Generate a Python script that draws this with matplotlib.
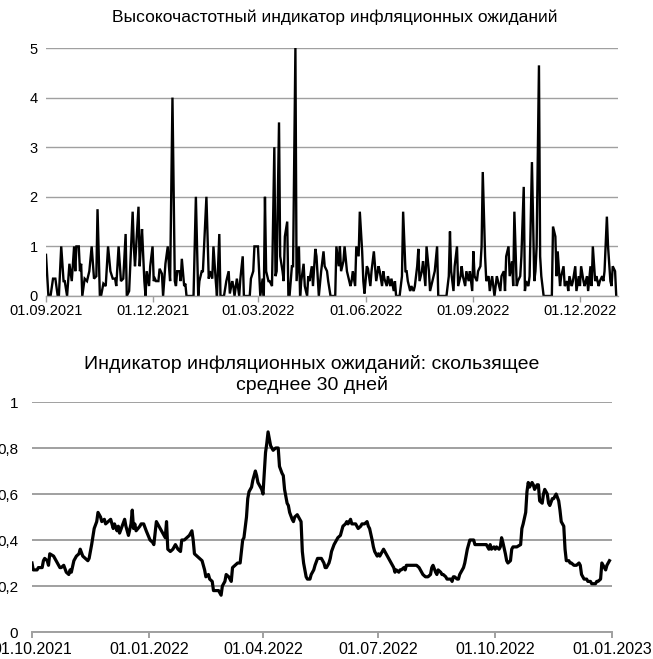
import matplotlib
matplotlib.use('Agg')
import matplotlib.pyplot as plt
import pandas as pd

plt.rcParams['font.family'] = ['Liberation Sans', 'DejaVu Sans']

# ---------------- data ----------------
title_top = "Высокочастотный индикатор инфляционных ожиданий"
title_bottom = ["Индикатор инфляционных ожиданий: скользящее", "среднее 30 дней"]

hf_start = "2021-09-01"
hf_day = [0, 2, 4, 6, 8, 10, 11, 13, 15, 16, 18, 20, 22, 24, 25, 26, 28, 29, 30, 31,
          33, 35, 37, 39, 41, 43, 44, 46, 47, 49, 51, 53, 55, 57, 59, 60, 62, 64, 66, 68,
          69, 71, 74, 75, 76, 77, 79, 80, 81, 82, 84, 85, 86, 88, 89, 91, 92, 93, 94, 96,
          97, 99, 100, 102, 104, 105, 106, 108, 110, 111, 112, 114, 115, 116, 118, 119, 120, 123, 126, 128,
          130, 131, 133, 134, 137, 139, 140, 142, 143, 145, 146, 148, 149, 152, 154, 156, 157, 159, 160, 161,
          163, 165, 166, 168, 169, 172, 174, 175, 177, 178, 179, 181, 182, 183, 185, 186, 187, 188, 190, 191,
          193, 195, 196, 197, 199, 200, 202, 203, 204, 206, 207, 208, 210, 211, 213, 214, 216, 217, 218, 220,
          221, 223, 224, 225, 227, 228, 230, 231, 233, 235, 237, 238, 240, 241, 243, 247, 248, 250, 251, 252,
          254, 255, 257, 258, 260, 261, 262, 264, 265, 267, 268, 270, 271, 272, 274, 275, 277, 278, 280, 281,
          282, 284, 285, 287, 288, 289, 291, 292, 294, 295, 297, 298, 299, 302, 304, 305, 307, 308, 309, 311,
          312, 314, 315, 317, 318, 319, 321, 322, 324, 325, 327, 328, 329, 331, 332, 334, 335, 342, 344, 345,
          346, 348, 349, 351, 352, 354, 355, 356, 358, 359, 361, 362, 364, 365, 366, 368, 369, 371, 372, 373,
          375, 376, 378, 379, 381, 382, 383, 385, 386, 388, 389, 391, 392, 393, 395, 396, 398, 399, 400, 402,
          403, 405, 406, 408, 409, 410, 412, 413, 415, 417, 418, 419, 421, 422, 423, 425, 432, 433, 435, 436,
          437, 439, 440, 442, 443, 445, 446, 447, 449, 450, 452, 453, 455, 456, 457, 459, 460, 462, 463, 465,
          466, 467, 469, 470, 472, 473, 475, 476, 477, 479, 480, 482, 483, 484, 486, 487]
hf_val = [0.83, 0.02, 0.02, 0.35, 0.35, 0.0, 0.0, 1.0, 0.3, 0.3, 0.0, 0.65, 0.3, 1.0, 0.5, 1.0, 1.0, 0.5, 0.65, 0.0,
          0.35, 0.3, 0.5, 1.0, 0.35, 0.4, 1.75, 0.0, 0.0, 0.25, 0.2, 1.0, 0.5, 0.35, 0.35, 0.2, 1.0, 0.3, 0.35, 1.25,
          0.0, 0.1, 1.7, 1.0, 0.6, 1.0, 1.8, 0.6, 1.0, 1.35, 0.3, 0.0, 0.5, 0.2, 0.6, 1.0, 0.3, 0.35, 0.3, 0.3,
          0.55, 0.45, 0.0, 0.65, 1.0, 0.6, 0.3, 4.0, 0.3, 0.2, 0.5, 0.5, 0.3, 0.75, 0.2, 0.25, 0.0, 0.0, 0.0, 2.0,
          0.0, 0.3, 0.5, 0.5, 2.0, 0.35, 0.5, 0.35, 1.0, 0.3, 0.0, 1.25, 0.0, 0.0, 0.3, 0.5, 0.05, 0.3, 0.2, 0.0,
          0.35, 0.0, 0.35, 0.8, 0.0, 0.0, 0.0, 0.35, 0.5, 1.0, 1.0, 1.0, 0.5, 0.0, 0.35, 0.0, 2.0, 0.5, 0.3, 0.3,
          0.2, 3.0, 0.4, 0.5, 3.5, 0.8, 0.5, 0.3, 1.2, 1.5, 0.0, 0.0, 0.6, 0.6, 5.0, 0.3, 1.0, 0.0, 0.3, 0.65,
          0.2, 0.0, 0.4, 0.3, 0.6, 0.2, 0.95, 0.8, 0.0, 0.5, 0.9, 0.6, 0.5, 0.3, 0.0, 0.0, 1.0, 0.6, 1.0, 0.5,
          0.7, 1.0, 0.5, 0.4, 0.2, 0.3, 0.5, 0.2, 1.0, 0.8, 1.7, 0.9, 0.3, 0.05, 0.6, 0.55, 0.2, 0.5, 0.9, 0.6,
          0.3, 0.6, 0.5, 0.2, 0.5, 0.35, 0.2, 0.4, 0.2, 0.35, 0.1, 0.3, 0.0, 0.0, 0.4, 1.7, 0.5, 0.5, 0.3, 0.1,
          0.2, 0.1, 0.2, 0.6, 0.95, 0.3, 0.5, 0.7, 0.2, 1.0, 0.5, 0.1, 0.2, 0.4, 0.5, 1.0, 0.0, 0.0, 0.4, 1.3,
          0.5, 0.1, 0.6, 1.0, 0.2, 0.4, 0.6, 0.4, 0.2, 0.5, 0.3, 0.5, 0.1, 0.9, 0.4, 0.3, 0.5, 0.6, 1.0, 2.5,
          0.8, 0.3, 0.4, 0.1, 0.4, 0.2, 0.0, 0.4, 0.3, 0.1, 0.4, 0.5, 0.1, 0.8, 1.0, 0.4, 0.7, 0.2, 1.7, 0.2,
          0.3, 0.4, 0.8, 2.2, 0.1, 0.3, 0.2, 0.4, 2.7, 0.3, 0.5, 1.0, 4.65, 0.8, 0.4, 0.0, 0.0, 1.4, 1.2, 0.4,
          0.9, 0.2, 0.4, 0.6, 0.2, 0.3, 0.1, 0.4, 0.2, 0.3, 0.6, 0.1, 0.4, 0.2, 0.6, 0.3, 0.2, 0.4, 0.1, 0.6,
          0.2, 1.0, 0.3, 0.4, 0.2, 0.3, 0.4, 0.3, 0.5, 1.6, 1.0, 0.3, 0.2, 0.6, 0.5, 0.0]

ma_start = "2021-10-01"
ma_day = [0, 1, 4, 5, 8, 9, 10, 12, 13, 14, 17, 19, 22, 23, 25, 27, 29, 30, 31, 33,
          35, 37, 38, 40, 42, 44, 45, 47, 49, 51, 52, 54, 55, 57, 58, 60, 62, 64, 65, 67,
          68, 69, 71, 73, 74, 76, 78, 79, 80, 81, 82, 85, 86, 88, 90, 93, 95, 96, 98, 100,
          101, 103, 105, 106, 107, 109, 111, 113, 115, 117, 118, 120, 122, 124, 126, 127, 128, 130, 132, 134,
          136, 137, 139, 140, 142, 143, 145, 147, 149, 150, 152, 153, 155, 157, 158, 160, 162, 163, 164, 166,
          167, 169, 170, 171, 173, 174, 176, 177, 178, 180, 181, 182, 184, 185, 186, 188, 189, 190, 192, 193,
          194, 195, 197, 198, 199, 201, 202, 203, 205, 206, 207, 209, 210, 212, 213, 214, 216, 217, 219, 220,
          222, 223, 225, 228, 230, 231, 232, 234, 235, 236, 238, 240, 241, 243, 244, 245, 247, 248, 249, 251,
          252, 253, 255, 256, 257, 259, 260, 261, 262, 264, 265, 266, 268, 269, 270, 272, 273, 274, 276, 277,
          278, 280, 281, 282, 284, 285, 286, 287, 289, 290, 291, 293, 294, 295, 298, 301, 303, 305, 306, 307,
          308, 310, 311, 312, 314, 315, 316, 318, 319, 320, 322, 323, 324, 326, 327, 330, 331, 332, 333, 335,
          336, 337, 339, 340, 341, 343, 344, 345, 347, 348, 349, 350, 353, 356, 357, 358, 360, 361, 362, 364,
          365, 366, 368, 369, 370, 371, 373, 374, 375, 377, 378, 379, 382, 385, 386, 387, 389, 390, 391, 392,
          394, 395, 396, 398, 399, 400, 402, 403, 404, 406, 407, 408, 410, 411, 412, 413, 415, 416, 417, 419,
          420, 421, 423, 424, 425, 427, 428, 429, 431, 432, 433, 435, 436, 437, 438, 440, 441, 442, 444, 445,
          446, 448, 449, 450, 452, 453, 454, 455]
ma_val = [0.30, 0.27, 0.27, 0.28, 0.28, 0.31, 0.32, 0.31, 0.29, 0.34, 0.33, 0.31, 0.28, 0.28, 0.29, 0.26, 0.25, 0.27, 0.26, 0.31,
          0.33, 0.34, 0.36, 0.33, 0.32, 0.31, 0.32, 0.38, 0.45, 0.48, 0.52, 0.50, 0.48, 0.49, 0.47, 0.48, 0.49, 0.45, 0.47, 0.44,
          0.46, 0.43, 0.46, 0.49, 0.46, 0.42, 0.47, 0.53, 0.45, 0.47, 0.44, 0.46, 0.47, 0.47, 0.44, 0.40, 0.39, 0.38, 0.48, 0.46,
          0.45, 0.43, 0.41, 0.48, 0.36, 0.35, 0.36, 0.38, 0.36, 0.35, 0.40, 0.40, 0.41, 0.42, 0.44, 0.40, 0.34, 0.33, 0.32, 0.31,
          0.27, 0.24, 0.25, 0.23, 0.22, 0.18, 0.18, 0.18, 0.16, 0.20, 0.22, 0.25, 0.24, 0.22, 0.28, 0.29, 0.30, 0.30, 0.30, 0.40,
          0.41, 0.50, 0.58, 0.61, 0.63, 0.66, 0.70, 0.68, 0.65, 0.63, 0.62, 0.60, 0.78, 0.82, 0.87, 0.81, 0.80, 0.79, 0.80, 0.80,
          0.80, 0.72, 0.69, 0.68, 0.62, 0.56, 0.55, 0.52, 0.49, 0.48, 0.50, 0.51, 0.50, 0.48, 0.35, 0.30, 0.24, 0.23, 0.23, 0.25,
          0.27, 0.29, 0.32, 0.32, 0.30, 0.28, 0.28, 0.30, 0.32, 0.35, 0.38, 0.40, 0.41, 0.42, 0.44, 0.46, 0.47, 0.48, 0.47, 0.49,
          0.47, 0.47, 0.47, 0.46, 0.45, 0.46, 0.47, 0.47, 0.47, 0.48, 0.46, 0.45, 0.40, 0.37, 0.35, 0.33, 0.34, 0.33, 0.35, 0.36,
          0.35, 0.33, 0.32, 0.31, 0.29, 0.28, 0.26, 0.27, 0.26, 0.27, 0.27, 0.28, 0.27, 0.29, 0.29, 0.29, 0.29, 0.28, 0.27, 0.26,
          0.25, 0.24, 0.24, 0.24, 0.25, 0.28, 0.29, 0.26, 0.25, 0.27, 0.26, 0.25, 0.25, 0.24, 0.23, 0.23, 0.22, 0.24, 0.24, 0.23,
          0.23, 0.25, 0.27, 0.28, 0.30, 0.36, 0.38, 0.40, 0.40, 0.40, 0.38, 0.38, 0.38, 0.38, 0.38, 0.38, 0.36, 0.38, 0.36, 0.37,
          0.36, 0.37, 0.36, 0.37, 0.41, 0.39, 0.34, 0.31, 0.30, 0.31, 0.36, 0.37, 0.37, 0.38, 0.45, 0.47, 0.52, 0.61, 0.65, 0.63,
          0.65, 0.64, 0.62, 0.64, 0.64, 0.57, 0.56, 0.60, 0.62, 0.60, 0.56, 0.55, 0.58, 0.58, 0.59, 0.60, 0.57, 0.53, 0.48, 0.46,
          0.36, 0.31, 0.31, 0.30, 0.30, 0.29, 0.29, 0.29, 0.30, 0.29, 0.25, 0.23, 0.23, 0.23, 0.22, 0.22, 0.21, 0.21, 0.21, 0.22,
          0.22, 0.23, 0.30, 0.29, 0.27, 0.29, 0.30, 0.31]

top_ticks = ["2021-09-01", "2021-12-01", "2022-03-01", "2022-06-01", "2022-09-01", "2022-12-01"]
bot_ticks = ["2021-10-01", "2022-01-01", "2022-04-01", "2022-07-01", "2022-10-01", "2023-01-01"]
top_yticks = [0, 1, 2, 3, 4, 5]
bot_yticks = [0, 0.2, 0.4, 0.6, 0.8, 1.0]
bot_ylabels = ["0", "0,2", "0,4", "0,6", "0,8", "1"]

# ---------------- figure ----------------
W, H = 653, 659
fig = plt.figure(figsize=(W / 100, H / 100), dpi=100)
fig.patch.set_facecolor('white')

grid_c = '#a0a0a0'

def style(ax, ylab_pad, xlab_pad, ysize, xsize, gw):
    for s in ['left', 'right', 'top']:
        ax.spines[s].set_visible(False)
    ax.spines['bottom'].set_color(grid_c)
    ax.spines['bottom'].set_linewidth(gw)
    ax.yaxis.grid(True, color=grid_c, linewidth=gw)
    ax.set_axisbelow(True)
    ax.tick_params(axis='y', length=0, pad=ylab_pad, labelsize=ysize)
    ax.tick_params(axis='x', length=4, width=gw, color=grid_c, pad=xlab_pad, labelsize=xsize)

# top axes
ax1 = fig.add_axes([46 / W, 1 - 296 / H, (618 - 46) / W, (296 - 48) / H])
hf_dates = pd.Timestamp(hf_start) + pd.to_timedelta(hf_day, unit='D')
ax1.plot(hf_dates, hf_val, color='black', linewidth=1.7, solid_joinstyle='miter')
ax1.set_ylim(0, 5)
ax1.set_xlim(pd.Timestamp(hf_start), pd.Timestamp(hf_start) + pd.Timedelta(days=488.5))
ax1.set_yticks(top_yticks)
ax1.set_yticklabels([str(v) for v in top_yticks])
tt = pd.to_datetime(top_ticks)
ax1.set_xticks(tt)
ax1.set_xticklabels([d.strftime('%d.%m.%Y') for d in tt])
style(ax1, 6, 2, 10.5, 10.5, 1.0)
fig.text(335 / W, 1 - 17 / H, title_top, ha='center', va='center', fontsize=12.5)

# bottom axes
ax2 = fig.add_axes([32 / W, 1 - 632 / H, (612 - 32) / W, (632 - 402) / H])
ma_dates = pd.Timestamp(ma_start) + pd.to_timedelta(ma_day, unit='D')
ax2.plot(ma_dates, ma_val, color='black', linewidth=2.3)
ax2.set_ylim(0, 1)
bt = pd.to_datetime(bot_ticks)
ax2.set_xlim(bt[0], bt[-1])
ax2.set_yticks(bot_yticks)
ax2.set_yticklabels(bot_ylabels)
ax2.set_xticks(bt)
ax2.set_xticklabels([d.strftime('%d.%m.%Y') for d in bt])
style(ax2, 10, 3, 11, 11.5, 1.4)
fig.text(312 / W, 1 - 364 / H, title_bottom[0], ha='center', va='center', fontsize=14)
fig.text(312 / W, 1 - 385 / H, title_bottom[1], ha='center', va='center', fontsize=14)

fig.savefig('out.png', dpi=100, facecolor='white')
